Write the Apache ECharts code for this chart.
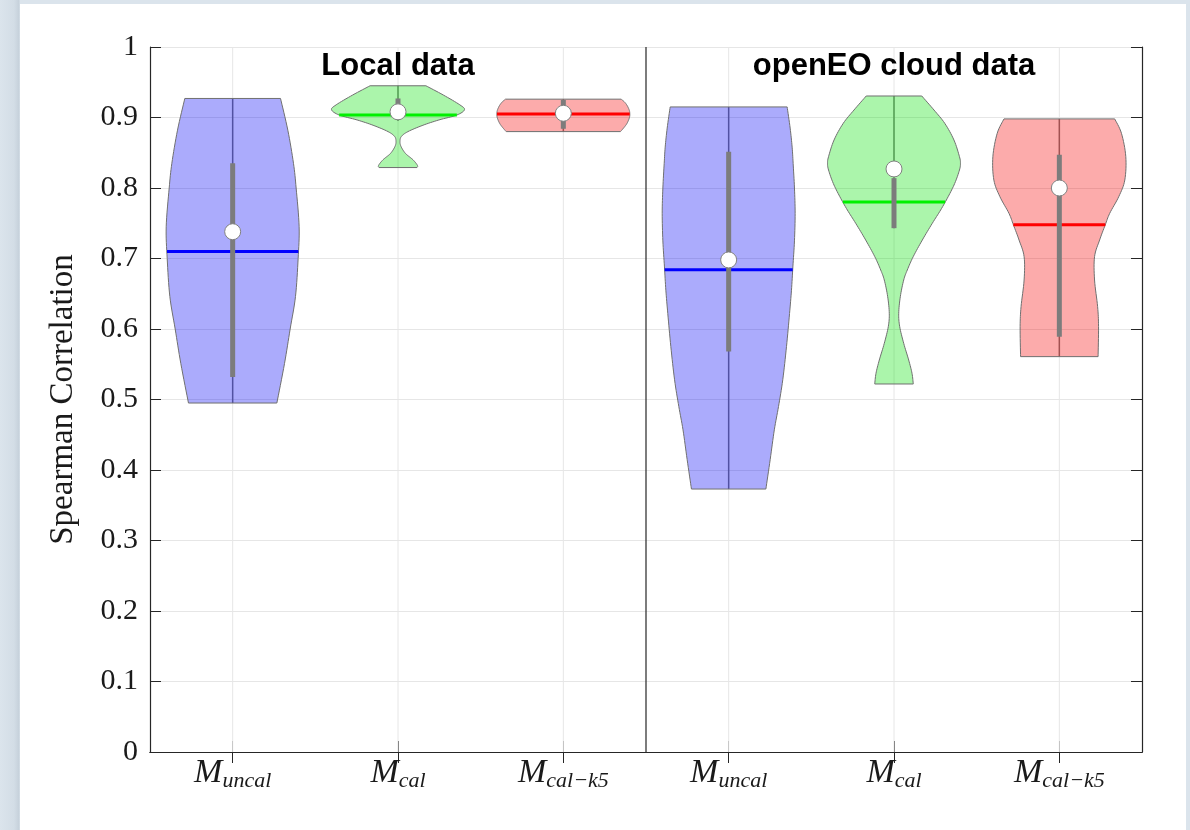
<!DOCTYPE html>
<html>
<head>
<meta charset="utf-8">
<script src="https://cdn.jsdelivr.net/npm/echarts@6/dist/echarts.min.js"></script>
<style>
html,body{margin:0;padding:0;width:1190px;height:830px;overflow:hidden;background:linear-gradient(to right,#dbe4ec 0px,#d3dde6 14px,#c6d1db 19px,#dbe4ec 20px);}
#panel{position:absolute;left:20px;top:4px;width:1166px;height:826px;background:#ffffff;}
#chart{position:absolute;left:0;top:0;width:1190px;height:830px;}
</style>
</head>
<body>
<div id="panel"></div>
<div id="chart"></div>
<script>
// ---------------- data ----------------
const groups = ['Local data', 'openEO cloud data'];
const methods = ['uncal', 'cal', 'cal\u2212k5'];
const categories = ['Local uncal', 'Local cal', 'Local cal-k5', 'Cloud uncal', 'Cloud cal', 'Cloud cal-k5'];
// group title anchors: [category index, group index]
const groupTitleAnchors = [[1, 0], [4, 1]];
// boundary between groups: before category index 3
const groupBoundaries = [3];

// violin density profiles: [value, relative density], from top to bottom
const localUncalDensity = [[0.927,0.72],[0.882,0.83],[0.835,0.915],[0.800,0.955],[0.745,1.0],[0.700,0.985],[0.646,0.945],[0.600,0.865],[0.551,0.78],[0.495,0.665]];
const localCalDensity = [[0.945,0.42],[0.932,0.68],[0.918,0.93],[0.911,1.0],[0.9035,0.885],[0.8965,0.615],[0.889,0.375],[0.880,0.15],[0.873,0.05],[0.866,0.03],[0.859,0.045],[0.849,0.113],[0.840,0.226],[0.832,0.293],[0.829,0.286]];
const localCalK5Density = [[0.926,0.87],[0.922,0.92],[0.917,0.96],[0.911,0.99],[0.906,1.0],[0.900,0.995],[0.892,0.96],[0.886,0.915],[0.880,0.86]];
const cloudUncalDensity = [[0.915,0.88],[0.885,0.925],[0.858,0.955],[0.835,0.97],[0.800,0.99],[0.764,1.0],[0.725,0.99],[0.688,0.966],[0.655,0.945],[0.622,0.916],[0.575,0.87],[0.528,0.814],[0.490,0.75],[0.457,0.687],[0.415,0.625],[0.373,0.56]];
const cloudCalDensity = [[0.9305,0.418],[0.9106,0.602],[0.8917,0.764],[0.8681,0.902],[0.8444,0.985],[0.835,1.0],[0.8255,0.985],[0.8066,0.914],[0.7877,0.815],[0.7688,0.702],[0.7499,0.576],[0.7262,0.426],[0.7026,0.289],[0.6837,0.20],[0.6695,0.146],[0.6458,0.095],[0.6222,0.071],[0.6033,0.086],[0.5797,0.146],[0.5560,0.221],[0.5371,0.271],[0.5220,0.29]];
const cloudCalK5Density = [[0.898,0.833],[0.8775,0.935],[0.8444,1.0],[0.8113,0.985],[0.7877,0.894],[0.7641,0.758],[0.7475,0.69],[0.7262,0.606],[0.7026,0.53],[0.6695,0.53],[0.6317,0.576],[0.6033,0.59],[0.5608,0.583]];

const medians     = [0.738, 0.908, 0.906, 0.698, 0.827, 0.800];
const means       = [0.710, 0.9035, 0.905, 0.684, 0.780, 0.748];
const q1          = [0.532, 0.902, 0.884, 0.568, 0.743, 0.589];
const q3          = [0.835, 0.927, 0.925, 0.8515, 0.814, 0.847];
const whiskerLow  = [0.495, 0.895, 0.880, 0.373, 0.743, 0.561];
const whiskerHigh = [0.927, 0.945, 0.926, 0.915, 0.9305, 0.898];

// ---------------- styles ----------------
const profiles = [localUncalDensity, localCalDensity, localCalK5Density, cloudUncalDensity, cloudCalDensity, cloudCalK5Density];
const fillColors = ['rgba(0,0,245,0.33)', 'rgba(0,225,0,0.33)', 'rgba(245,0,0,0.33)', 'rgba(0,0,245,0.33)', 'rgba(0,225,0,0.33)', 'rgba(245,0,0,0.33)'];
const meanColors = ['#0000ff', '#00f000', '#ff0000', '#0000ff', '#00f000', '#ff0000'];
const MAX_HALF = 0.402; // fraction of category band
const AXIS_COLOR = '#262626';

function smoothProfile(p, n) {
  const out = [];
  for (let k = 0; k < p.length - 1; k++) {
    const p0 = p[Math.max(k - 1, 0)], p1 = p[k], p2 = p[k + 1], p3 = p[Math.min(k + 2, p.length - 1)];
    for (let s = 0; s < n; s++) {
      const t = s / n, t2 = t * t, t3 = t2 * t;
      const f = (a, b, c, d) => 0.5 * ((2 * b) + (-a + c) * t + (2 * a - 5 * b + 4 * c - d) * t2 + (-a + 3 * b - 3 * c + d) * t3);
      out.push([f(p0[0], p1[0], p2[0], p3[0]), Math.max(0.01, f(p0[1], p1[1], p2[1], p3[1]))]);
    }
  }
  out.push(p[p.length - 1]);
  return out;
}
function densityAt(p, v) {
  for (let k = 0; k < p.length - 1; k++) {
    const a = p[k], b = p[k + 1];
    if (v <= a[0] && v >= b[0]) {
      const t = (a[0] - v) / (a[0] - b[0]);
      return a[1] + (b[1] - a[1]) * t;
    }
  }
  return p[p.length - 1][1];
}

function renderViolin(params, api) {
  const i = api.value(0);
  const prof = profiles[i];
  const band = api.size([1, 0])[0];
  const cx = api.coord([i, 0])[0];
  const maxHW = band * MAX_HALF;
  const pts = smoothProfile(prof, 8);
  const right = pts.map(p => [cx + p[1] * maxHW, api.coord([i, p[0]])[1]]);
  const left = pts.slice().reverse().map(p => [cx - p[1] * maxHW, api.coord([i, p[0]])[1]]);
  const yWl = api.coord([i, whiskerLow[i]])[1];
  const yWh = api.coord([i, whiskerHigh[i]])[1];
  const yQ1 = api.coord([i, q1[i]])[1];
  const yQ3 = api.coord([i, q3[i]])[1];
  const yMed = api.coord([i, medians[i]])[1];
  const yMean = api.coord([i, means[i]])[1];
  const mhw = densityAt(prof, means[i]) * maxHW;
  return {
    type: 'group',
    children: [
      { type: 'line', shape: { x1: cx, y1: yWh, x2: cx, y2: yWl }, style: { stroke: '#7a7a7a', lineWidth: 1.5 } },
      { type: 'polygon', shape: { points: right.concat(left) }, style: { fill: fillColors[i], stroke: '#6f6f6f', lineWidth: 1 } },
      { type: 'line', shape: { x1: cx - mhw, y1: yMean, x2: cx + mhw, y2: yMean }, style: { stroke: meanColors[i], lineWidth: 3 } },
      { type: 'line', shape: { x1: cx, y1: yQ3, x2: cx, y2: yQ1 }, style: { stroke: '#7c7c7c', lineWidth: 5, lineCap: 'butt' } },
      { type: 'circle', shape: { cx: cx, cy: yMed, r: 8 }, style: { fill: '#ffffff', stroke: '#808080', lineWidth: 1 } }
    ]
  };
}

function renderXGrid(params, api) {
  const i = api.value(0);
  const c0 = api.coord([i, 0]);
  const c1 = api.coord([i, 1]);
  return { type: 'line', shape: { x1: c0[0], y1: c0[1], x2: c1[0], y2: c1[1] }, style: { stroke: '#e6e6e6', lineWidth: 1 } };
}

function renderBoundary(params, api) {
  const i = api.value(0);
  const band = api.size([1, 0])[0];
  const c0 = api.coord([i, 0]);
  const c1 = api.coord([i, 1]);
  const x = c0[0] - band / 2;
  return { type: 'line', shape: { x1: x, y1: c0[1], x2: x, y2: c1[1] }, style: { stroke: AXIS_COLOR, lineWidth: 1.2 } };
}

function renderTitle(params, api) {
  const c = api.coord([api.value(0), 1]);
  return {
    type: 'text', x: c[0], y: c[1] + 19,
    style: { text: groups[api.value(2)], fill: '#000000', font: 'bold 31px "Liberation Sans", Arial, sans-serif', align: 'center', verticalAlign: 'middle' }
  };
}

const chart = echarts.init(document.getElementById('chart'), null, { renderer: 'canvas' });
const tickStyle = { show: true, inside: true, length: 11, alignWithLabel: true, lineStyle: { color: AXIS_COLOR, width: 1 } };
const option = {
  animation: false,
  backgroundColor: 'transparent',
  grid: { left: 150, right: 48, top: 47, bottom: 78, containLabel: false },
  xAxis: [
    {
      type: 'category', data: categories, position: 'bottom', boundaryGap: true,
      axisLine: { show: true, lineStyle: { color: AXIS_COLOR, width: 1.2 } },
      axisTick: tickStyle,
      splitLine: { show: false },
      axisLabel: {
        interval: 0, margin: 2,
        formatter: (val, idx) => '{m|M}{s|' + methods[idx % 3] + '}',
        rich: {
          m: { fontFamily: 'Liberation Serif', fontStyle: 'italic', fontSize: 34, lineHeight: 38, color: '#1a1a1a', verticalAlign: 'middle' },
          s: { fontFamily: 'Liberation Serif', fontStyle: 'italic', fontSize: 22, lineHeight: 22, color: '#1a1a1a', verticalAlign: 'bottom' }
        }
      }
    },
    {
      type: 'category', data: categories, position: 'top', boundaryGap: true,
      axisLine: { show: true, lineStyle: { color: AXIS_COLOR, width: 1.2 } },
      axisTick: tickStyle, axisLabel: { show: false }, splitLine: { show: false }
    }
  ],
  yAxis: [
    {
      type: 'value', min: 0, max: 1, interval: 0.1, position: 'left',
      name: 'Spearman Correlation', nameLocation: 'middle', nameGap: 70, nameRotate: 90,
      nameTextStyle: { fontFamily: 'Liberation Serif', fontSize: 33, color: '#1a1a1a' },
      axisLine: { show: true, lineStyle: { color: AXIS_COLOR, width: 1.2 } },
      axisTick: { show: true, inside: true, length: 11, lineStyle: { color: AXIS_COLOR } },
      axisLabel: {
        margin: 12, fontFamily: 'Liberation Serif', fontSize: 30, color: '#1a1a1a',
        formatter: v => (Math.abs(v) < 1e-9 ? '0' : Math.abs(v - 1) < 1e-9 ? '1' : v.toFixed(1))
      },
      splitLine: { show: true, lineStyle: { color: '#e6e6e6', width: 1 } }
    },
    {
      type: 'value', min: 0, max: 1, interval: 0.1, position: 'right',
      axisLine: { show: true, lineStyle: { color: AXIS_COLOR, width: 1.2 } },
      axisTick: { show: true, inside: true, length: 11, lineStyle: { color: AXIS_COLOR } },
      axisLabel: { show: false }, splitLine: { show: false }
    }
  ],
  series: [
    { type: 'custom', name: 'xgrid', xAxisIndex: 0, yAxisIndex: 0, z: 1, silent: true,
      data: categories.map((c, i) => [i, 0]), encode: { x: 0, y: 1 }, renderItem: renderXGrid },
    { type: 'custom', name: 'violins', xAxisIndex: 0, yAxisIndex: 0, z: 2, silent: true,
      data: categories.map((c, i) => [i, medians[i]]), encode: { x: 0, y: 1 }, renderItem: renderViolin },
    { type: 'custom', name: 'boundary', xAxisIndex: 0, yAxisIndex: 0, z: 3, silent: true,
      data: groupBoundaries.map(b => [b, 0]), encode: { x: 0, y: 1 }, renderItem: renderBoundary },
    { type: 'custom', name: 'titles', xAxisIndex: 0, yAxisIndex: 0, z: 4, silent: true,
      data: groupTitleAnchors.map(a => [a[0], 1, a[1]]), encode: { x: 0, y: 1 }, renderItem: renderTitle }
  ]
};
chart.setOption(option);
</script>
</body>
</html>
